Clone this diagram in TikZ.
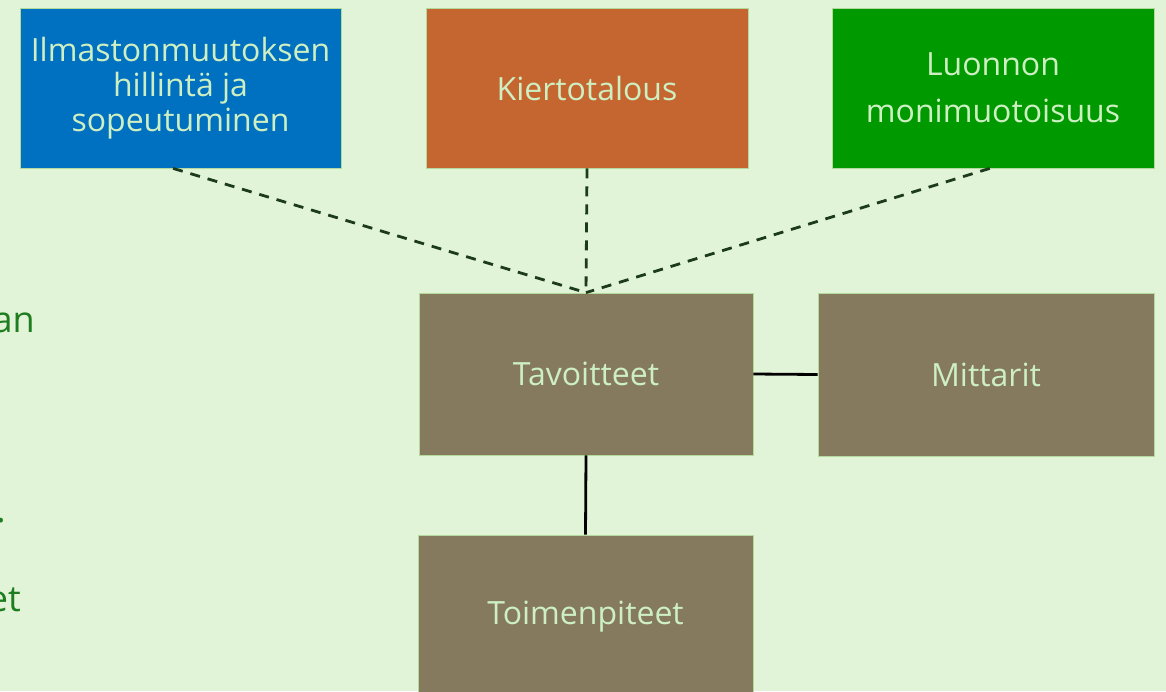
\documentclass[tikz,border=0pt]{standalone}
\usepackage{fontspec}
\setmainfont{Open Sans}
\usetikzlibrary{calc}
\definecolor{bgc}{HTML}{E2F4D8}
\definecolor{bluec}{HTML}{0070C0}
\definecolor{orangec}{HTML}{C56630}
\definecolor{greenc}{HTML}{009A00}
\definecolor{brownc}{HTML}{857A5E}
\definecolor{edgec}{HTML}{B4D99C}
\definecolor{lighttext}{HTML}{CDEFC2}
\definecolor{leftgreen}{HTML}{1E7D1E}
\definecolor{dashc}{HTML}{1C3A1C}
\tikzset{
  boxnode/.style={draw=edgec, line width=0.8pt, inner sep=0pt, align=center,
    text=lighttext, font=\fontsize{32}{35}\selectfont},
  dashlink/.style={draw=dashc, line width=2.8pt, dash pattern=on 10pt off 8pt},
  solidlink/.style={draw=black, line width=2.8pt},
  sidetext/.style={text=leftgreen, font=\fontsize{36}{44}\selectfont, inner sep=0pt, anchor=base east}
}
\begin{document}
\begin{tikzpicture}[x=1pt,y=-1pt]
\useasboundingbox[fill=bgc] (0,0) rectangle (1166,691);
\node[boxnode, fill=bluec, minimum width=321pt, minimum height=160pt] (blue) at (180.5,88) {Ilmastonmuutoksen\\hillintä ja\\sopeutuminen};
\node[boxnode, fill=orangec, minimum width=322pt, minimum height=160pt] (orange) at (587,88) {Kiertotalous};
\node[boxnode, fill=greenc, minimum width=322pt, minimum height=160pt, font=\fontsize{32}{47}\selectfont] (green) at (993,88) {Luonnon\\monimuotoisuus};
\node[boxnode, fill=brownc, minimum width=334pt, minimum height=162pt] (tav) at (586,374) {Tavoitteet};
\node[boxnode, fill=brownc, minimum width=336pt, minimum height=163pt] (mitt) at (986,374.5) {Mittarit};
\node[boxnode, fill=brownc, minimum width=335pt, minimum height=164pt] (toim) at (585.5,617) {Toimenpiteet};
\node[sidetext] (t1) at (35,332) {an};
\node[sidetext] (t2) at (6,522) {.};
\node[sidetext] (t3) at (21,611) {et};
\draw[dashlink] ($(blue.south west)!0.477!(blue.south east)$) -- (tav.north);
\draw[dashlink] (orange.south) -- (tav.north);
\draw[dashlink] ($(green.south west)!0.49!(green.south east)$) -- (tav.north);
\draw[solidlink] (tav.east) -- (mitt.west);
\draw[solidlink] (tav.south) -- (toim.north);
\end{tikzpicture}
\end{document}
